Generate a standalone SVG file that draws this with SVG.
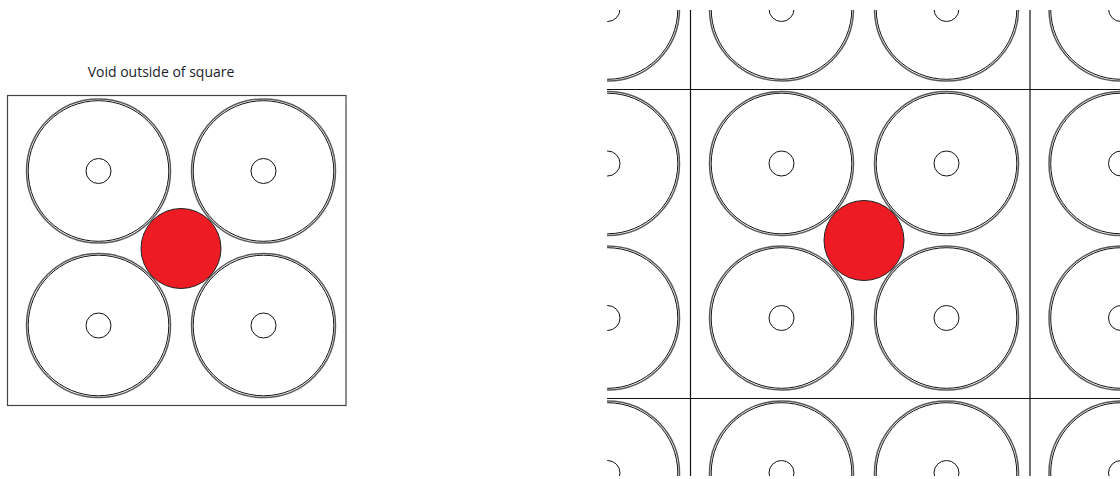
<svg xmlns="http://www.w3.org/2000/svg" xmlns:xlink="http://www.w3.org/1999/xlink" width="1120" height="479" viewBox="0 0 1120 479">
<style>
.outer{fill:none;stroke:#5a5a5a;stroke-width:1.5}
.inner{fill:none;stroke:#111;stroke-width:1}
.hole{fill:none;stroke:#111;stroke-width:1}
.void{fill:#ed1c24;stroke:#222;stroke-width:1}
.frame{fill:none;stroke:#444;stroke-width:1.2}
.grid{stroke:#111;stroke-width:1.2}
.label{font-family:"Open Sans","Liberation Sans",sans-serif;font-size:14px;fill:#1c1c2c}
</style>
<defs>
<g id="disc">
<circle class="outer" r="72"/>
<circle class="inner" r="70.3"/>
<circle class="hole" r="12.5"/>
</g>
<clipPath id="clipR"><rect x="607" y="10" width="513" height="466"/></clipPath>
</defs>

<g id="left-panel">
<text class="label" x="161" y="77" text-anchor="middle">Void outside of square</text>
<rect id="square" class="frame" x="7.5" y="95.5" width="338.5" height="310"/>
<g id="disc-tl"><use xlink:href="#disc" x="98.5" y="171"/></g>
<g id="disc-tr"><use xlink:href="#disc" x="263.5" y="171"/></g>
<g id="disc-bl"><use xlink:href="#disc" x="98.5" y="325.5"/></g>
<g id="disc-br"><use xlink:href="#disc" x="263.5" y="325.5"/></g>
<g id="void-left"><circle class="void" cx="181" cy="248.5" r="40"/></g>
</g>

<g id="right-panel" clip-path="url(#clipR)">
<g id="grid-lines">
<line class="grid" x1="607" y1="89.5" x2="1120" y2="89.5"/>
<line class="grid" x1="607" y1="398.5" x2="1120" y2="398.5"/>
<line class="grid" x1="690.5" y1="10" x2="690.5" y2="476"/>
<line class="grid" x1="1030" y1="10" x2="1030" y2="476"/>
</g>
<g id="discs-top">
<use xlink:href="#disc" x="607.5" y="9"/>
<use xlink:href="#disc" x="781.5" y="9"/>
<use xlink:href="#disc" x="946.5" y="9"/>
<use xlink:href="#disc" x="1121" y="9"/>
</g>
<g id="discs-mid">
<use xlink:href="#disc" x="607.5" y="163.5"/>
<use xlink:href="#disc" x="781.5" y="163.5"/>
<use xlink:href="#disc" x="946.5" y="163.5"/>
<use xlink:href="#disc" x="1121" y="163.5"/>
<use xlink:href="#disc" x="607.5" y="318"/>
<use xlink:href="#disc" x="781.5" y="318"/>
<use xlink:href="#disc" x="946.5" y="318"/>
<use xlink:href="#disc" x="1121" y="318"/>
</g>
<g id="discs-bottom">
<use xlink:href="#disc" x="607.5" y="473"/>
<use xlink:href="#disc" x="781.5" y="473"/>
<use xlink:href="#disc" x="946.5" y="473"/>
<use xlink:href="#disc" x="1121" y="473"/>
</g>
<g id="void-right"><circle class="void" cx="864" cy="240.5" r="40"/></g>
</g>
</svg>
